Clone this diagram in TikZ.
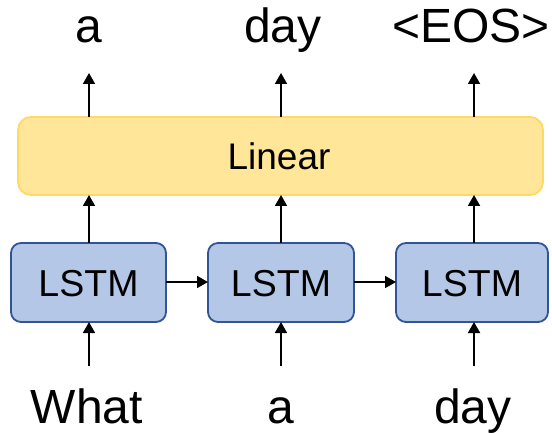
\documentclass[tikz,border=0pt]{standalone}
\usepackage{fontspec}
\setmainfont{Liberation Sans}
\usetikzlibrary{arrows.meta}
\definecolor{cellfill}{HTML}{B4C7E7}
\definecolor{celldraw}{HTML}{2F5597}
\definecolor{linfill}{HTML}{FFE699}
\definecolor{lindraw}{HTML}{FFD966}
\tikzset{
  cell/.style={draw=celldraw, fill=cellfill, line width=1.8pt, rounded corners=10pt},
  linbox/.style={draw=lindraw, fill=linfill, line width=1.8pt, rounded corners=13pt},
  flow/.style={line width=1.8pt, -{Triangle[length=11pt,width=12pt]}},
  word/.style={font=\fontsize{48}{52}\selectfont, anchor=base, inner sep=0pt},
  celltext/.style={font=\fontsize{37.5}{42}\selectfont, anchor=base, inner sep=0pt},
}
\begin{document}
\begin{tikzpicture}[x=1pt,y=-1pt]
\useasboundingbox (0,0) rectangle (552,433);
% linear layer
\draw[linbox] (18,117) rectangle (543,195);
\node[word, font=\fontsize{37}{42}\selectfont] (lin) at (279,170) {Linear};
\coordinate (L1t) at (89,117); \coordinate (L1b) at (89,195);
\coordinate (L2t) at (281,117); \coordinate (L2b) at (281,195);
\coordinate (L3t) at (474,117); \coordinate (L3b) at (474,195);
% LSTM cells
\draw[cell] (11,243) rectangle (166,322);
\draw[cell] (208,243) rectangle (354,322);
\draw[cell] (396,243) rectangle (548,322);
\node[celltext] (c1) at (88.5,296) {LSTM};
\node[celltext] (c2) at (281,296) {LSTM};
\node[celltext] (c3) at (472,296) {LSTM};
\coordinate (c1t) at (89,243); \coordinate (c1b) at (89,322); \coordinate (c1r) at (166,282);
\coordinate (c2t) at (281,243); \coordinate (c2b) at (281,322); \coordinate (c2l) at (208,282); \coordinate (c2r) at (354,282);
\coordinate (c3t) at (474,243); \coordinate (c3b) at (474,322); \coordinate (c3l) at (396,282);
% outputs
\node[word] (o1) at (89,43) {a};
\node[word] (o2) at (283,43) {day};
\node[word] (o3) at (471,43) {<EOS>};
\coordinate (o1b) at (89,73); \coordinate (o2b) at (281,73); \coordinate (o3b) at (474,73);
% inputs
\node[word] (i1) at (87,423) {What};
\node[word] (i2) at (281,423) {a};
\node[word] (i3) at (473,423) {day};
\coordinate (i1t) at (89,366); \coordinate (i2t) at (281,366); \coordinate (i3t) at (474,366);
% connectors
\draw[flow] (i1t) -- (c1b);
\draw[flow] (i2t) -- (c2b);
\draw[flow] (i3t) -- (c3b);
\draw[flow] (c1t) -- (L1b);
\draw[flow] (c2t) -- (L2b);
\draw[flow] (c3t) -- (L3b);
\draw[flow] (L1t) -- (o1b);
\draw[flow] (L2t) -- (o2b);
\draw[flow] (L3t) -- (o3b);
\draw[flow] (c1r) -- (c2l);
\draw[flow] (c2r) -- (c3l);
\end{tikzpicture}
\end{document}
